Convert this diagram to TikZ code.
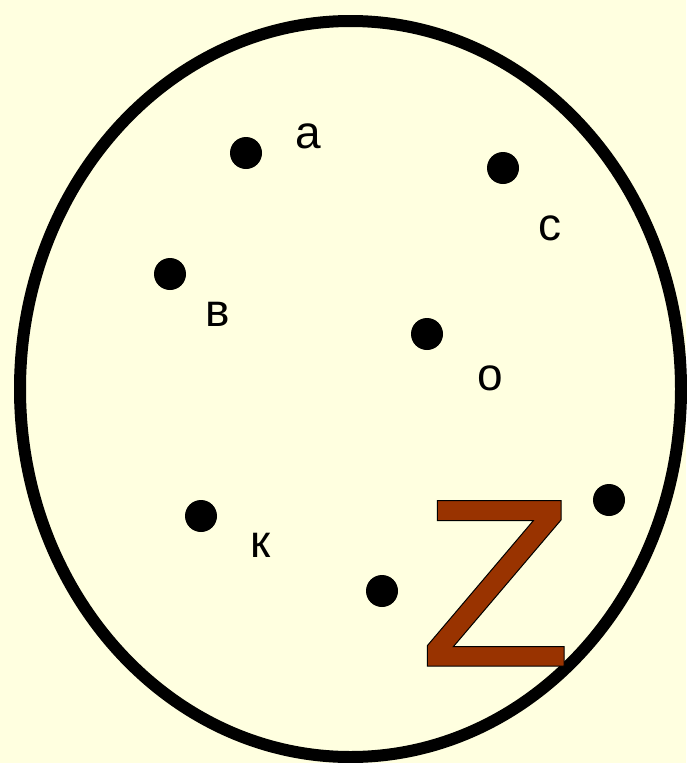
\documentclass[tikz,border=0pt]{standalone}
\usepackage{fontspec}
\setmainfont{Liberation Sans}
\usepackage{tikz}
\definecolor{paper}{HTML}{FFFFE0}
\definecolor{zbrown}{HTML}{993300}

\begin{document}
\begin{tikzpicture}[x=1pt,y=-1pt,
  dot/.style={circle,fill=black,inner sep=0pt,minimum size=32pt},
  lbl/.style={inner sep=0pt,font=\fontsize{46}{50}\selectfont}]
\useasboundingbox[fill=paper] (0,0) rectangle (686,763);
\draw[line width=12pt,fill=paper] (350.5,389) ellipse [x radius=330.5, y radius=368];
\foreach \nm/\pt in {a/{(246,153)},c/{(503,168)},v/{(170,274)},o/{(427,334)},k/{(201,516)},m/{(382,591)},r/{(609,500)}} {
  \node[dot] (\nm) at \pt {};
}
\node[lbl] (la) at (308,136) {а};
\node[lbl] (lc) at (550,228) {с};
\node[lbl] (lv) at (218,314) {в};
\node[lbl] (lo) at (490,378) {о};
\node[lbl] (lk) at (261,545) {к};
% the big Z
\draw[fill=zbrown,line width=1pt] (437.3,500.7) -- (561,500.7) -- (561,520) -- (453.3,646.7)
  -- (564,646.7) -- (564,666) -- (427.3,666) -- (427.3,645.7) -- (533.3,520.7)
  -- (437.3,520.7) -- cycle;
\end{tikzpicture}
\end{document}
